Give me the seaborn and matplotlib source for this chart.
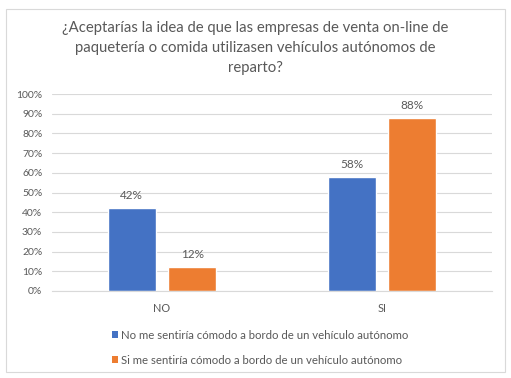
import matplotlib
matplotlib.use("Agg")
import matplotlib.pyplot as plt
import seaborn as sns
import pandas as pd
from matplotlib.patches import Rectangle, Patch

categories = ["NO", "SI"]
series_names = ["No me sentiría cómodo a bordo de un vehículo autónomo",
                "Si me sentiría cómodo a bordo de un vehículo autónomo"]
no_comodo = [42, 58]
si_comodo = [12, 88]
yticks = [0, 10, 20, 30, 40, 50, 60, 70, 80, 90, 100]
title = ("¿Aceptarías la idea de que las empresas de venta on-line de\n"
         "paquetería o comida utilizasen vehículos autónomos de\nreparto?")
colors = ["#4472C4", "#ED7D31"]

df = pd.DataFrame({
    "cat": categories * 2,
    "val": no_comodo + si_comodo,
    "serie": [series_names[0]] * 2 + [series_names[1]] * 2,
})

sns.set_theme(style="white")
plt.rcParams["font.family"] = ["Lato", "DejaVu Sans"]
txt = "#595959"

W, H = 511, 378
fig = plt.figure(figsize=(W / 100, H / 100), dpi=100)
ax = fig.add_axes([52 / W, (H - 291) / H, 440 / W, 197 / H])

sns.barplot(data=df, x="cat", y="val", hue="serie", palette=colors,
            width=0.55, gap=0.2, ax=ax, legend=False, saturation=1)

ax.set_ylim(0, 100)
ax.set_xlim(-0.5, 1.5)
ax.set_yticks(yticks)
ax.set_yticklabels([f"{v}%" for v in yticks], fontsize=7.5, color=txt)
ax.tick_params(axis="y", length=0, pad=7)
ax.tick_params(axis="x", length=0, pad=9, labelsize=7.8, labelcolor=txt)
ax.set_xlabel("")
ax.set_ylabel("")
ax.yaxis.grid(True, color="#D9D9D9", linewidth=0.8)
ax.set_axisbelow(True)
for s in ["top", "right", "left"]:
    ax.spines[s].set_visible(False)
ax.spines["bottom"].set_color("#D9D9D9")
ax.spines["bottom"].set_linewidth(0.8)

for cont in ax.containers:
    ax.bar_label(cont, labels=[f"{v:.0f}%" for v in cont.datavalues],
                 padding=5, fontsize=8.5, color=txt)

fig.text(0.5, 1 - 48 / H, title, ha="center", va="center", fontsize=10.7,
         color=txt, linespacing=1.55)

handles = [Patch(facecolor=c, edgecolor="none") for c in colors]
leg = fig.legend(handles, series_names, loc="upper left",
                 bbox_to_anchor=(107 / W, 1 - 325 / H), frameon=False,
                 fontsize=8.2, handlelength=0.55, handleheight=0.55,
                 handletextpad=0.3, labelspacing=1.25, borderaxespad=0)
for t in leg.get_texts():
    t.set_color(txt)

fig.patches.append(Rectangle((6 / W, 1 - 372 / H), 499 / W, 363 / H,
                             transform=fig.transFigure, fill=False,
                             edgecolor="#D9D9D9", linewidth=0.8))

fig.savefig("out.png", dpi=100, facecolor="white")
